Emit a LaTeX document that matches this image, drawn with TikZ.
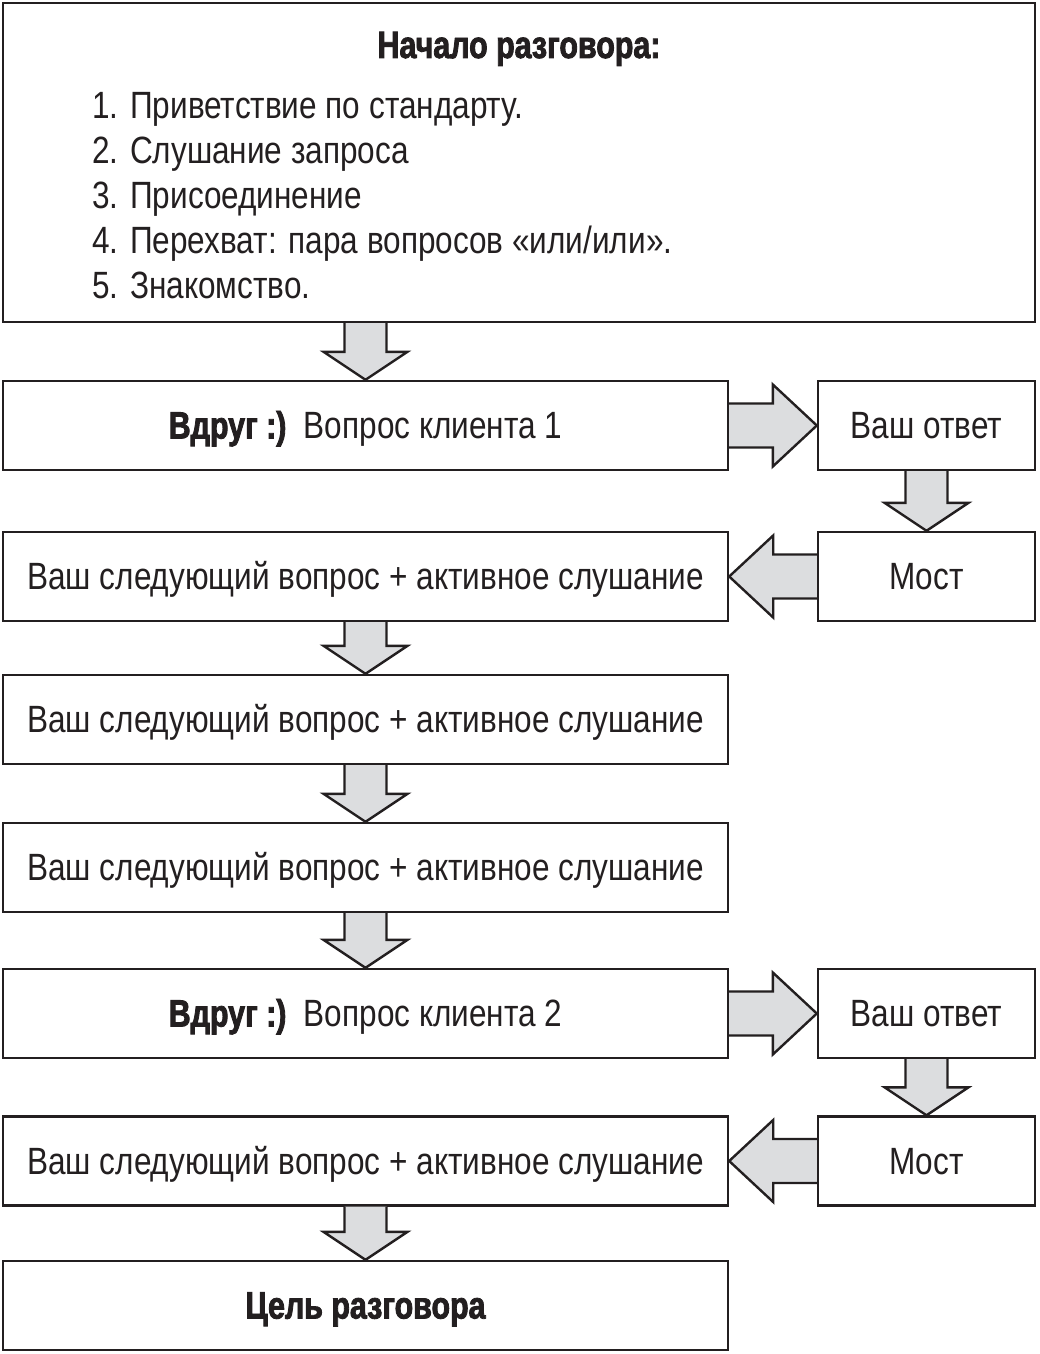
\documentclass[tikz,border=0pt]{standalone}
\usepackage{fontspec}
\setmainfont{Liberation Sans}[FakeStretch=0.83, BoldFeatures={FakeStretch=0.8,FakeBold=2.2}]
\usetikzlibrary{calc}
\definecolor{ink}{HTML}{231F20}
\definecolor{arrowgray}{HTML}{DCDDDF}
\newcommand\darr[2]{\filldraw[barrow] let \p1=(#1), \p2=(#2) in
  (\x1-21pt,\y1) -- (\x1-21pt,\y2+28pt) -- (\x1-42pt,\y2+28pt) -- (\x2,\y2)
  -- (\x1+42pt,\y2+28pt) -- (\x1+21pt,\y2+28pt) -- (\x1+21pt,\y1);}
\newcommand\rarr[2]{\filldraw[barrow] let \p1=(#1), \p2=(#2) in
  (\x1,\y1+22pt) -- (\x2-44pt,\y1+22pt) -- (\x2-44pt,\y1+41pt) -- (\x2,\y1)
  -- (\x2-44pt,\y1-41pt) -- (\x2-44pt,\y1-22pt) -- (\x1,\y1-22pt);}
\newcommand\larr[2]{\filldraw[barrow] let \p1=(#1), \p2=(#2) in
  (\x1,\y1+22pt) -- (\x2+44pt,\y1+22pt) -- (\x2+44pt,\y1+41pt) -- (\x2,\y1)
  -- (\x2+44pt,\y1-41pt) -- (\x2+44pt,\y1-22pt) -- (\x1,\y1-22pt);}
\begin{document}
\begin{tikzpicture}[x=1pt,y=-1pt,
  every node/.style={font=\fontsize{38}{45}\selectfont, text=ink},
  box/.style={draw=ink, line width=2.4pt, fill=white, inner sep=0pt, minimum height=89pt,
    text height=26pt, text depth=0pt},
  wide/.style={box, minimum width=725pt},
  narrow/.style={box, minimum width=217pt},
  barrow/.style={draw=ink, fill=arrowgray, line width=2.4pt, line join=miter},
  txt/.style={inner sep=0pt}]
\useasboundingbox[fill=white] (0,0) rectangle (1039,1354);
% top box
\node[box, minimum width=1032pt, minimum height=319pt] (top) at (519,162.5) {};
\node[txt, anchor=base, font=\fontsize{38}{45}\selectfont\bfseries] (title) at (519,58) {Начало разговора:};
\node[txt, anchor=base west] (l1) at (92,118) {1. Приветствие по стандарту.};
\node[txt, anchor=base west] (l2) at (92,163) {2. Слушание запроса};
\node[txt, anchor=base west] (l3) at (92,208) {3. Присоединение};
\node[txt, anchor=base west] (l4) at (92,253) {4. Перехват: пара вопросов «или/или».};
\node[txt, anchor=base west] (l5) at (92,298) {5. Знакомство.};
% rows
\node[wide] (q1) at (365.5,425.5) {{\bfseries Вдруг :)}\ \ Вопрос клиента 1};
\node[narrow] (a1) at (926.5,425.5) {Ваш ответ};
\node[narrow] (m1) at (926.5,576.5) {Мост};
\node[wide] (n1) at (365.5,576.5) {Ваш следующий вопрос + активное слушание};
\node[wide] (n2) at (365.5,719.5) {Ваш следующий вопрос + активное слушание};
\node[wide] (n3) at (365.5,867.5) {Ваш следующий вопрос + активное слушание};
\node[wide] (q2) at (365.5,1013.5) {{\bfseries Вдруг :)}\ \ Вопрос клиента 2};
\node[narrow] (a2) at (926.5,1013.5) {Ваш ответ};
\node[narrow] (m2) at (926.5,1161) {Мост};
\node[wide] (n4) at (365.5,1161) {Ваш следующий вопрос + активное слушание};
\node[wide] (goal) at (365.5,1305.5) {\bfseries Цель разговора};
% arrows
\darr{top.south -| q1.north}{q1.north}
\rarr{q1.east}{a1.west}
\darr{a1.south}{m1.north}
\larr{m1.west}{n1.east}
\darr{n1.south}{n2.north}
\darr{n2.south}{n3.north}
\darr{n3.south}{q2.north}
\rarr{q2.east}{a2.west}
\darr{a2.south}{m2.north}
\larr{m2.west}{n4.east}
\darr{n4.south}{goal.north}
\end{tikzpicture}
\end{document}
